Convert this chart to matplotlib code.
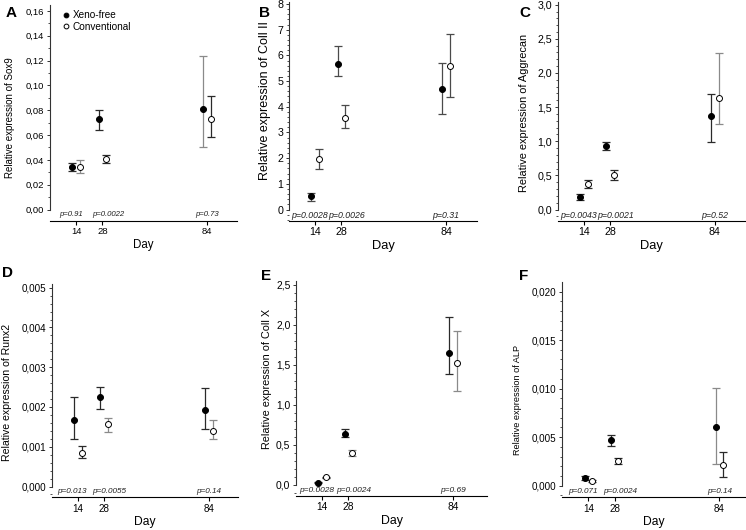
import matplotlib
matplotlib.use('Agg')
import matplotlib.pyplot as plt
import numpy as np
from matplotlib.ticker import MultipleLocator, FuncFormatter

plt.rcParams['font.family'] = ['Liberation Sans', 'DejaVu Sans']

# ---- data ----
days = np.array([14, 28, 84])

sox9_xf    = [0.0341, 0.0730, 0.0810]
sox9_xf_lo = [0.0312, 0.0642, 0.0503]
sox9_xf_hi = [0.0373, 0.0802, 0.1240]
sox9_cv    = [0.0346, 0.0405, 0.0726]
sox9_cv_lo = [0.0297, 0.0373, 0.0581]
sox9_cv_hi = [0.0395, 0.0440, 0.0917]
sox9_p     = ['p=0.91', 'p=0.0022', 'p=0.73']

col2_xf    = [0.51, 5.68, 4.68]
col2_xf_lo = [0.35, 5.21, 3.71]
col2_xf_hi = [0.64, 6.38, 5.70]
col2_cv    = [1.98, 3.58, 5.60]
col2_cv_lo = [1.57, 3.19, 4.37]
col2_cv_hi = [2.34, 4.07, 6.83]
col2_p     = ['p=0.0028', 'p=0.0026', 'p=0.31']

agg_xf    = [0.181, 0.930, 1.375]
agg_xf_lo = [0.132, 0.876, 0.989]
agg_xf_hi = [0.230, 0.989, 1.689]
agg_cv    = [0.377, 0.499, 1.640]
agg_cv_lo = [0.318, 0.426, 1.248]
agg_cv_hi = [0.436, 0.573, 2.286]
agg_p     = ['p=0.0043', 'p=0.0021', 'p=0.52']

runx_xf    = [0.00166, 0.00226, 0.00193]
runx_xf_lo = [0.00119, 0.00195, 0.00144]
runx_xf_hi = [0.00224, 0.00250, 0.00247]
runx_cv    = [0.00084, 0.00157, 0.00140]
runx_cv_lo = [0.00071, 0.00137, 0.00119]
runx_cv_hi = [0.00102, 0.00173, 0.00168]
runx_p     = ['p=0.013', 'p=0.0055', 'p=0.14']

colx_xf    = [0.025, 0.630, 1.642]
colx_xf_lo = [0.017, 0.590, 1.383]
colx_xf_hi = [0.033, 0.693, 2.100]
colx_cv    = [0.090, 0.390, 1.520]
colx_cv_lo = [0.082, 0.354, 1.175]
colx_cv_hi = [0.098, 0.437, 1.917]
colx_p     = ['p=0.0028', 'p=0.0024', 'p=0.69']

alp_xf    = [0.00076, 0.00470, 0.00605]
alp_xf_lo = [0.00055, 0.00412, 0.00220]
alp_xf_hi = [0.00096, 0.00522, 0.01003]
alp_cv    = [0.00048, 0.00254, 0.00213]
alp_cv_lo = [0.00040, 0.00227, 0.00093]
alp_cv_hi = [0.00056, 0.00289, 0.00350]
alp_p     = ['p=0.071', 'p=0.0024', 'p=0.14']

W, H = 746, 530
DARK = '#2a2a2a'
MID = '#4a4a4a'
GREY = '#8a8a8a'

panels = [
  dict(letter='A', gene='Sox9', xf=(sox9_xf, sox9_xf_lo, sox9_xf_hi), cv=(sox9_cv, sox9_cv_lo, sox9_cv_hi), p=sox9_p,
       ymax=0.16, major=0.02, minor=0.01, dec=2,
       geo=(50, 5, 209.5, 220.5, 11, 187), lab=(10, 118), ls=7.0, sc=1.0, let=(6, 6),
       ecol=([DARK, DARK, GREY], [GREY, DARK, DARK])),
  dict(letter='B', gene='Coll II', xf=(col2_xf, col2_xf_lo, col2_xf_hi), cv=(col2_cv, col2_cv_lo, col2_cv_hi), p=col2_p,
       ymax=8, major=1, minor=0.2, dec=0,
       geo=(289, 2, 209.5, 220.5, 4, 188), lab=(265, 101), ls=9.0, sc=1.12, let=(259, 6),
       ecol=([MID, MID, MID], [MID, MID, MID])),
  dict(letter='C', gene='Aggrecan', xf=(agg_xf, agg_xf_lo, agg_xf_hi), cv=(agg_cv, agg_cv_lo, agg_cv_hi), p=agg_p,
       ymax=3.0, major=0.5, minor=0.1, dec=1,
       geo=(557.7, 2, 209.5, 220.5, 4.7, 187), lab=(524, 113), ls=7.9, sc=1.12, let=(519, 6),
       ecol=([DARK, DARK, DARK], [DARK, DARK, GREY])),
  dict(letter='D', gene='Runx2', xf=(runx_xf, runx_xf_lo, runx_xf_hi), cv=(runx_cv, runx_cv_lo, runx_cv_hi), p=runx_p,
       ymax=0.005, major=0.001, minor=0.0002, dec=3,
       geo=(51.7, 284, 486.5, 497.3, 287.7, 186), lab=(7, 392), ls=7.6, sc=1.05, let=(2, 266),
       ecol=([DARK, DARK, DARK], [DARK, GREY, GREY])),
  dict(letter='E', gene='Coll X', xf=(colx_xf, colx_xf_lo, colx_xf_hi), cv=(colx_cv, colx_cv_lo, colx_cv_hi), p=colx_p,
       ymax=2.5, major=0.5, minor=0.1, dec=1,
       geo=(296, 281, 484.5, 496, 284.5, 191), lab=(267, 379), ls=7.8, sc=1.08, let=(261, 269),
       ecol=([DARK, DARK, DARK], [DARK, GREY, GREY])),
  dict(letter='F', gene='ALP', xf=(alp_xf, alp_xf_lo, alp_xf_hi), cv=(alp_cv, alp_cv_lo, alp_cv_hi), p=alp_p,
       ymax=0.02, major=0.005, minor=0.001, dec=3,
       geo=(562.3, 282, 485.7, 497.3, 291.5, 183), lab=(518, 400), ls=6.6, sc=1.05, let=(519, 269),
       ecol=([DARK, DARK, GREY], [DARK, DARK, DARK])),
]

fig = plt.figure(figsize=(W / 100, H / 100), dpi=100)

for pn in panels:
  sx, top, y0, line, ytick, w = pn['geo']
  ax = fig.add_axes([sx / W, 1 - line / H, w / W, (line - top) / H])
  scale = (y0 - ytick) / pn['ymax']
  ylo = -(line - y0) / scale
  yhi = pn['ymax'] + (ytick - top) / scale
  ax.set_ylim(ylo, yhi)
  ax.set_xlim(0, w / 1.87)
  sc = pn['sc']

  # error bars, one by one so each can take its own grey
  for (mean, lo, hi), xs, cols in [(pn['xf'], days - 2, pn['ecol'][0]), (pn['cv'], days + 2, pn['ecol'][1])]:
    for i in range(len(days)):
      ax.errorbar(xs[i], mean[i], yerr=[[mean[i] - lo[i]], [hi[i] - mean[i]]], fmt='none',
                  ecolor=cols[i], elinewidth=0.9, capsize=2.8, capthick=0.9, zorder=2)
  ax.plot(days - 2, pn['xf'][0], 'o', ms=4.3, mfc='black', mec='black', mew=0.7, ls='none', label='Xeno-free', zorder=3)
  ax.plot(days + 2, pn['cv'][0], 'o', ms=4.3, mfc='white', mec='black', mew=0.7, ls='none', label='Conventional', zorder=3)

  # p-values between the zero line and the day axis
  for xc, txt in zip([11, 31, 84], pn['p']):
    ax.text(xc, ylo / 2, txt, ha='center', va='center', fontsize=5.6 * sc, style='italic', color='#222222')

  ax.spines['top'].set_visible(False)
  ax.spines['right'].set_visible(False)
  ax.spines['left'].set_bounds(0, yhi)
  ax.spines['left'].set_color('#333333')
  ax.spines['left'].set_linewidth(0.8)
  ax.spines['bottom'].set_linewidth(0.8)

  ax.set_yticks(np.arange(0, pn['ymax'] + pn['major'] / 2, pn['major']))
  ax.yaxis.set_minor_locator(MultipleLocator(pn['minor']))
  ax.yaxis.set_major_formatter(FuncFormatter(lambda v, pos, d=pn['dec']: f"{v:.{d}f}".replace('.', ',')))
  ax.set_xticks(days)
  ax.set_xticklabels([str(d) for d in days])
  ax.tick_params(axis='y', which='major', length=2.5, width=0.7, pad=1.5, labelsize=6.8 * sc, color='#333333')
  ax.tick_params(axis='y', which='minor', length=1.3, width=0.6, color='#333333')
  ax.tick_params(axis='x', length=3, width=0.8, pad=1.5, labelsize=6.8 * sc)

  ax.set_xlabel('Day', fontsize=8.3 * sc, labelpad=2)
  ax.set_ylabel('Relative expression of ' + pn['gene'], fontsize=pn['ls'], va='center')
  lx, ly = pn['lab']
  ax.yaxis.set_label_coords((lx - sx) / w, (line - ly) / (line - top))

  fig.text(pn['let'][0] / W, 1 - pn['let'][1] / H, pn['letter'], fontsize=11, fontweight='bold', ha='left', va='top')

  if pn['letter'] == 'A':
    ax.legend(loc='upper left', bbox_to_anchor=(0.06, 0.98), frameon=False, fontsize=7.2,
              handlelength=0.7, handletextpad=0.35, borderaxespad=0, borderpad=0.1, labelspacing=0.12,
              markerscale=0.8)

fig.savefig('out.png', dpi=100)
